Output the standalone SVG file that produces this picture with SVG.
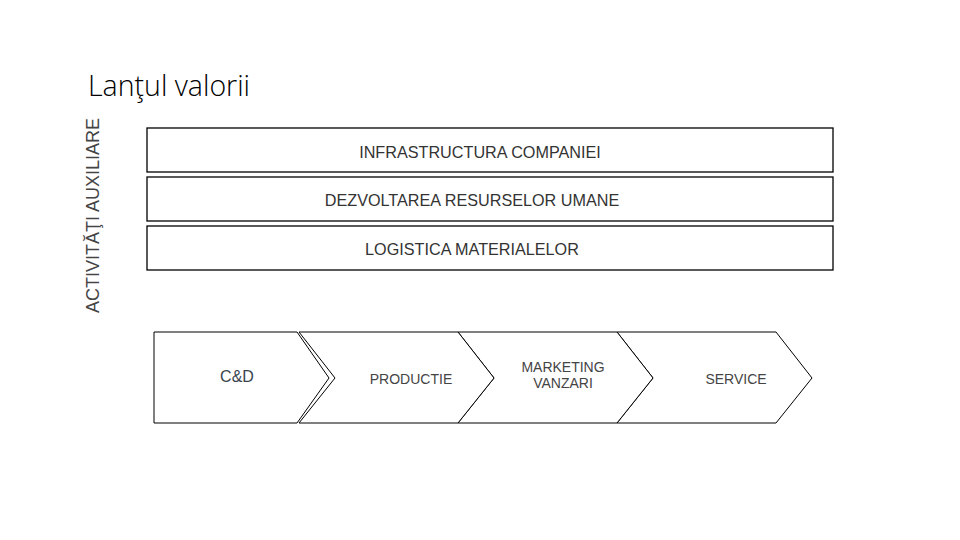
<svg xmlns="http://www.w3.org/2000/svg" width="960" height="540" viewBox="0 0 960 540">
<style>
.box{fill:#fff;stroke:#000;stroke-width:1.3}
.chev{fill:#fff;stroke:#000;stroke-width:1}
.bt{font-family:"Liberation Sans",Arial,sans-serif;font-size:16.2px;fill:#333;text-anchor:middle}
.ct{font-family:"Liberation Sans",Arial,sans-serif;font-size:14px;fill:#444;text-anchor:middle}
</style>
<rect width="960" height="540" fill="#fff"/>
<text x="88" y="96" font-family="'Open Sans','DejaVu Sans',sans-serif" font-weight="300" font-size="28.5" fill="#000">Lanţul valorii</text>
<text transform="translate(99,215.5) rotate(-90)" font-family="'Liberation Sans',Arial,sans-serif" font-size="18" fill="#444" text-anchor="middle">ACTIVITĂŢI AUXILIARE</text>
<g id="infra"><rect class="box" x="147" y="128" width="686" height="44"/><text class="bt" x="480" y="158">INFRASTRUCTURA COMPANIEI</text></g>
<g id="resurse"><rect class="box" x="147" y="177" width="686" height="44"/><text class="bt" x="472" y="206">DEZVOLTAREA RESURSELOR UMANE</text></g>
<g id="logistica"><rect class="box" x="147" y="226" width="686" height="44"/><text class="bt" x="472" y="255">LOGISTICA MATERIALELOR</text></g>
<g id="service"><polygon class="chev" points="617,332 776,332 812,378 776,423 617,423 653,378"/><text class="ct" x="736" y="384">SERVICE</text></g>
<g id="marketing"><polygon class="chev" points="458,332 617,332 653,378 617,423 458,423 494,378"/><text class="ct" x="563" y="372">MARKETING</text><text class="ct" x="563" y="388">VANZARI</text></g>
<g id="productie"><polygon class="chev" points="299,332 458,332 494,378 458,423 299,423 335,378"/><text class="ct" x="411" y="384">PRODUCTIE</text></g>
<g id="cd"><polygon class="chev" points="154,332 297,332 329,378 297,423 154,423"/><text x="237" y="382" font-family="'Liberation Sans',Arial,sans-serif" font-size="16" fill="#3a4450" text-anchor="middle">C&amp;D</text></g>
<g id="connectors"/>
</svg>
